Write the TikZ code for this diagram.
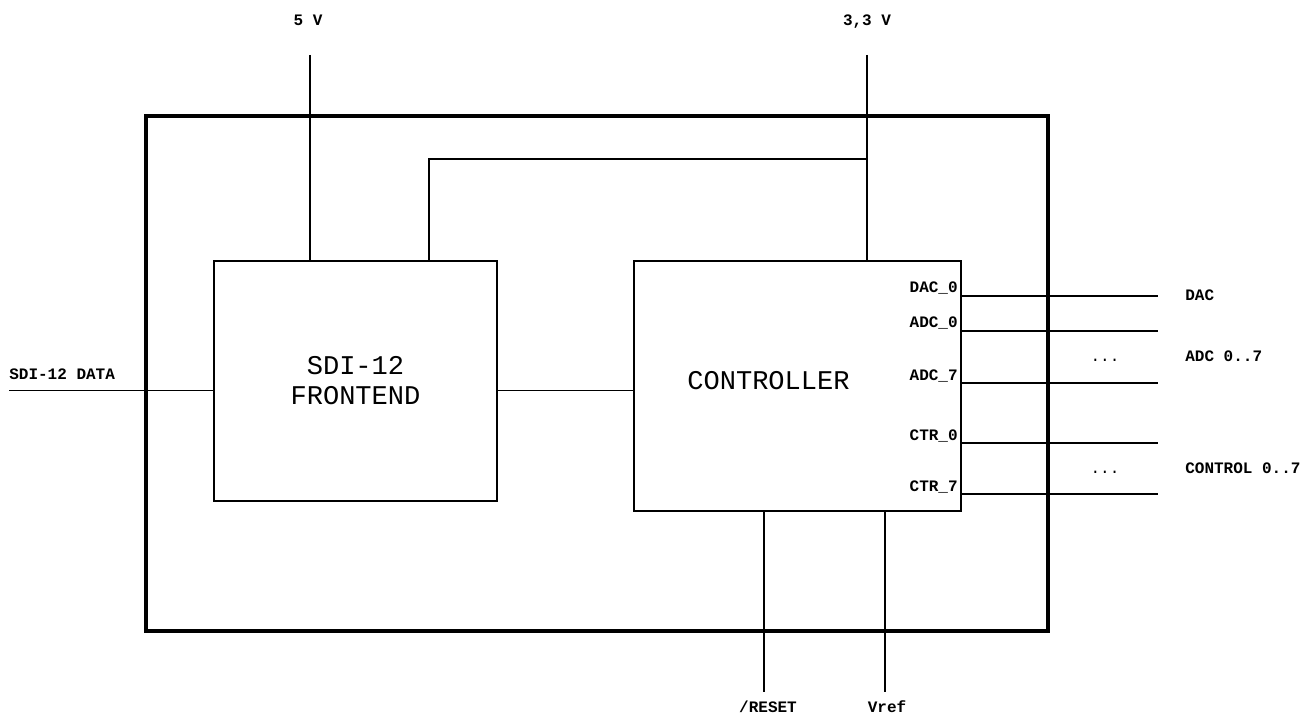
\documentclass[tikz,border=0pt]{standalone}
\usepackage{fontspec}
\usepackage{tikz}
\usetikzlibrary{positioning}

\newfontfamily\monofam{Liberation Mono}
\newcommand{\pinfont}{\monofam\bfseries\fontsize{9.1}{11}\selectfont}
\newcommand{\blkfont}{\monofam\fontsize{15.4}{17}\selectfont}

\begin{document}
\begin{tikzpicture}[
    x=0.02cm, y=-0.02cm,
    frame/.style={draw, line width=2.3pt, outer sep=0pt},
    blk/.style={draw, line width=1.2pt, outer sep=0pt, align=center, font=\blkfont},
    pin/.style={font=\pinfont, anchor=base east, inner sep=0pt},
    sig/.style={font=\pinfont, anchor=base west, inner sep=0pt},
    wire/.style={line width=0.6pt}
  ]
  \useasboundingbox (0,0) rectangle (1309,716);

  \node[frame, minimum width=18.04cm, minimum height=10.3cm] (board) at (597,373.5) {};
  \node[blk, minimum width=5.66cm, minimum height=4.8cm] (fe) at (355.5,381) {SDI-12\\FRONTEND};
  \node[blk, minimum width=6.54cm, minimum height=5cm] (ctrl) at (797.5,386) {};
  \node[font=\blkfont] (ctrltxt) at (768.5,381) {CONTROLLER};

  % Supplies from the top.
  \node[sig, anchor=base] (v5)  at (308,26) {5 V};
  \node[sig, anchor=base] (v33) at (867,26) {3,3 V};
  \coordinate (v5top)  at (310,55);
  \coordinate (v33top) at (867,55);
  \coordinate (v33br)  at (867,159);
  \coordinate (fetap)  at (429,261);
  \draw[wire] (v5top) -- (v5top |- fe.north);
  \draw[wire] (v33top) -- (v33top |- ctrl.north);
  \draw[wire] (v33br) -| (fetap);

  % Data line through the frontend.
  \node[sig] (data) at (9,379) {SDI-12 DATA};
  \coordinate (datain) at (9,390.5);
  \draw[wire] (datain) -- (datain -| fe.west);
  \draw[wire] (fe.east |- datain) -- (ctrl.west |- datain);

  % Controller outputs.
  \foreach \y/\p [count=\i] in {296/DAC\_0, 331/ADC\_0, 383/ADC\_7, 443/CTR\_0, 494/CTR\_7} {
    \coordinate (out\i) at (1158,\y);
    \draw[wire] (ctrl.east |- out\i) -- (out\i);
    \node[pin] (pin\i) at (958,\y-3) {\p};
  }
  \node[sig] (dac) at (1185,301) {DAC};
  \node[sig] (adc) at (1185,361) {ADC 0..7};
  \node[sig] (ctl) at (1185,473) {CONTROL 0..7};
  \node[font=\monofam\fontsize{9.1}{11}\selectfont, anchor=base, inner sep=0pt] (dots1) at (1105,361) {...};
  \node[font=\monofam\fontsize{9.1}{11}\selectfont, anchor=base, inner sep=0pt] (dots2) at (1105,473) {...};

  % Reset and reference from below.
  \node[sig, anchor=base] (rst)  at (768,712) {/RESET};
  \node[sig, anchor=base] (vref) at (887,712) {Vref};
  \coordinate (rstend)  at (764,692);
  \coordinate (vrefend) at (885,692);
  \draw[wire] (ctrl.south -| rstend) -- (rstend);
  \draw[wire] (ctrl.south -| vrefend) -- (vrefend);
\end{tikzpicture}
\end{document}
